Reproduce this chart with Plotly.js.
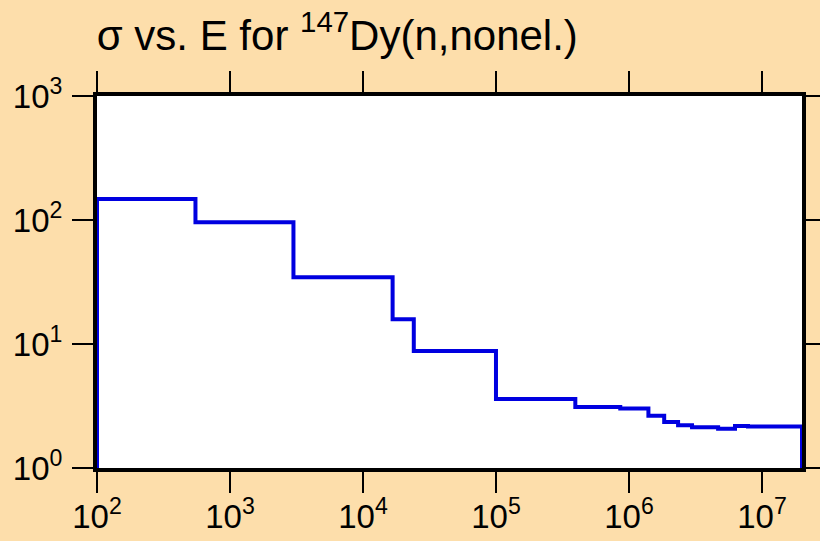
<!DOCTYPE html>
<html>
<head>
<meta charset="utf-8">
<script src="https://cdn.plot.ly/plotly-3.0.1.min.js"></script>
<style>html,body{margin:0;padding:0;background:#fddeab;}#chart{width:820px;height:541px;}</style>
</head>
<body>
<div id="chart"></div>
<script>
// Energy (eV) at step edges and cross section (b) for each step
const energy = [100, 100, 550, 3000, 16700, 24100, 100000, 395000, 860000, 1400000, 1840000, 2340000, 2980000, 4680000, 6270000, 7850000, 20000000, 20000000];
const sigma  = [1.0, 148, 96, 34.5, 15.8, 8.8, 3.6, 3.1, 3.02, 2.64, 2.35, 2.21, 2.13, 2.07, 2.18, 2.16, 2.16, 1.0];
const xTickVals = [1e2, 1e3, 1e4, 1e5, 1e6, 1e7];
const xTickText = ['10<sup>2</sup>', '10<sup>3</sup>', '10<sup>4</sup>', '10<sup>5</sup>', '10<sup>6</sup>', '10<sup>7</sup>'];
const yTickVals = [1, 10, 100, 1000];
const yTickText = ['10<sup>0</sup>', '10<sup>1</sup>', '10<sup>2</sup>', '10<sup>3</sup>'];
const titleText = 'σ vs. E for <sup>147</sup>Dy(n,nonel.)';

const fam = 'Liberation Sans, Arial, sans-serif';
const axisCommon = {
  type: 'log', showline: true, linewidth: 4, linecolor: '#000', mirror: 'all',
  ticks: 'outside', ticklen: 21, tickwidth: 2, tickcolor: '#000',
  showgrid: false, zeroline: false, tickfont: {family: fam, size: 33, color: '#000'}
};
const layout = {
  width: 820, height: 541,
  paper_bgcolor: '#fddeab', plot_bgcolor: '#ffffff',
  margin: {l: 97, r: 18, t: 96, b: 73},
  showlegend: false,
  title: {text: titleText, x: 0.118, xanchor: 'left', yref: 'container', y: 0.962, yanchor: 'top', font: {family: fam, size: 42, color: '#000'}},
  xaxis: Object.assign({}, axisCommon, {range: [2, Math.log10(2e7)], tickvals: xTickVals, ticktext: xTickText, ticklabelstandoff: -5}),
  yaxis: Object.assign({}, axisCommon, {range: [0, 3], tickvals: yTickVals, ticktext: yTickText, ticklabelstandoff: 3})
};
const trace = {
  x: energy, y: sigma, type: 'scatter', mode: 'lines',
  line: {shape: 'hv', color: '#0000e0', width: 4},
  cliponaxis: true
};
Plotly.newPlot('chart', [trace], layout, {displayModeBar: false, staticPlot: true});
</script>
</body>
</html>
